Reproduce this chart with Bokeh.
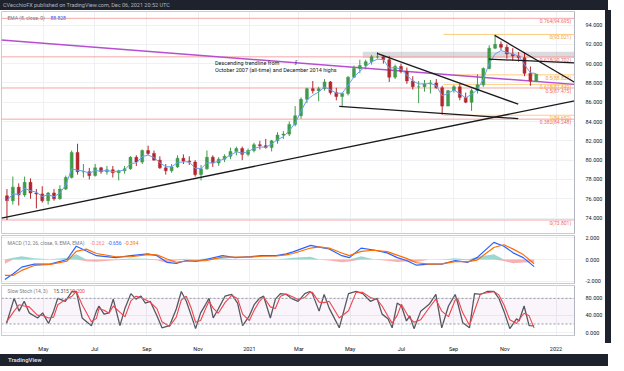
import numpy as np
import pandas as pd
from bokeh.plotting import figure
from bokeh.layouts import column, row
from bokeh.models import (Range1d, FixedTicker, NumeralTickFormatter, CustomJSTickFormatter,
                          Label, Span, BoxAnnotation, Div)
from bokeh.core.properties import value
from bokeh.embed import file_html
from bokeh.resources import INLINE

# ---------------- data ----------------
week_start = "2020-03-16"
opens = [76.3, 75.8, 77.2, 76.4, 77.7, 76.6, 76.5, 75.8, 76.6, 76.0, 77.0, 78.2, 80.8, 78.8, 78.8, 78.4,
         79.2, 78.8, 79.0, 78.7, 78.9, 79.1, 80.3, 79.8, 81.0, 80.7, 80.0, 79.2, 78.9, 79.3, 80.2, 79.9,
         79.8, 78.5, 79.1, 80.3, 79.7, 80.1, 80.4, 80.9, 81.2, 80.6, 81.0, 81.6, 81.5, 81.3, 82.0, 82.6,
         82.7, 83.7, 84.6, 86.3, 87.4, 87.2, 87.4, 88.1, 87.0, 86.6, 86.9, 88.6, 89.5, 89.8, 90.2, 90.7,
         90.7, 90.4, 88.6, 89.7, 89.2, 88.2, 87.6, 87.6, 87.9, 88.0, 87.5, 85.6, 87.2, 87.6, 86.5, 86.0,
         87.2, 87.8, 89.5, 91.6, 92.0, 91.7, 91.0, 90.8, 90.6, 89.0, 88.2]
highs = [77.0, 78.3, 77.6, 78.3, 78.1, 77.0, 77.3, 76.7, 77.0, 77.4, 78.4, 81.0, 81.7, 79.6, 79.2, 79.6,
         79.3, 79.4, 79.4, 79.0, 79.4, 80.4, 80.5, 81.1, 81.5, 81.0, 80.4, 79.6, 79.6, 80.5, 80.6, 80.4,
         80.0, 79.5, 81.0, 80.5, 80.3, 80.6, 81.3, 81.4, 81.4, 81.2, 81.8, 82.0, 82.2, 82.1, 82.9, 83.0,
         84.0, 85.6, 86.5, 87.5, 88.2, 87.6, 88.4, 88.2, 87.5, 87.0, 88.7, 89.8, 90.4, 90.4, 90.9, 91.2,
         90.9, 90.8, 89.9, 90.0, 89.6, 88.7, 88.2, 88.3, 88.3, 88.4, 87.7, 87.3, 87.8, 87.9, 87.0, 87.4,
         88.9, 89.6, 91.9, 93.0, 92.3, 92.0, 91.6, 91.2, 91.2, 89.7, 88.9]
lows = [73.8, 75.4, 75.3, 76.2, 76.0, 75.0, 75.6, 75.4, 75.8, 75.9, 76.9, 78.1, 78.5, 78.2, 78.0, 78.3,
        78.6, 78.5, 78.2, 77.9, 78.6, 79.0, 79.4, 79.6, 80.5, 80.0, 79.1, 78.5, 78.7, 79.2, 79.6, 79.5,
        78.3, 77.9, 79.0, 79.3, 79.4, 79.8, 80.1, 80.5, 80.0, 80.4, 80.8, 81.1, 81.2, 80.9, 81.7, 82.2,
        82.5, 83.5, 84.3, 85.9, 86.9, 86.1, 87.2, 86.8, 86.2, 85.6, 86.7, 88.5, 89.0, 89.4, 89.9, 90.5,
        90.0, 88.1, 88.4, 89.0, 87.9, 87.3, 85.9, 87.1, 86.9, 87.4, 84.7, 85.6, 87.0, 86.2, 85.9, 85.1,
        86.9, 87.6, 89.4, 91.5, 91.4, 90.5, 90.3, 90.2, 88.7, 87.7, 88.1]
closes = [75.8, 77.2, 76.4, 77.7, 76.6, 76.5, 75.8, 76.6, 76.0, 77.0, 78.2, 80.8, 78.8, 78.8, 78.4, 79.2,
          78.8, 79.0, 78.7, 78.9, 79.1, 80.3, 79.8, 81.0, 80.7, 80.0, 79.2, 78.9, 79.3, 80.2, 79.9, 79.8,
          78.5, 79.1, 80.3, 79.7, 80.1, 80.4, 80.9, 81.2, 80.6, 81.0, 81.6, 81.5, 81.3, 82.0, 82.6, 82.7,
          83.7, 84.6, 86.3, 87.4, 87.2, 87.4, 88.1, 87.0, 86.6, 86.9, 88.6, 89.5, 89.8, 90.2, 90.7, 90.7,
          90.4, 88.6, 89.7, 89.2, 88.2, 87.6, 87.6, 87.9, 88.0, 87.5, 85.6, 87.2, 87.6, 86.5, 86.0, 87.2,
          87.8, 89.5, 91.6, 92.0, 91.7, 91.0, 90.8, 90.6, 89.0, 88.2, 88.894]
last_price = 88.894
ema_value = 88.828

price_ticks = [72, 74, 76, 78, 80, 82, 84, 86, 88, 90, 92, 94]
time_ticks = ["2020-05-01", "2020-07-01", "2020-09-01", "2020-11-01", "2021-01-01", "2021-03-01",
              "2021-05-01", "2021-07-01", "2021-09-01", "2021-11-01", "2022-01-01"]
time_labels = ["May", "Jul", "Sep", "Nov", "2021", "Mar", "May", "Jul", "Sep", "Nov", "2022"]

# trend lines (black)
trend_x0 = ["2020-03-12", "2021-06-02", "2021-04-18", "2021-10-20", "2021-10-13"]
trend_y0 = [74.0, 91.07, 85.57, 92.93, 90.47]
trend_x1 = ["2022-01-23", "2021-11-17", "2021-11-17", "2022-01-23", "2022-01-23"]
trend_y1 = [86.15, 85.80, 84.30, 88.07, 90.07]
# long-term descending trendline (purple)
purple_x = ["2020-03-12", "2022-01-23"]
purple_y = [92.44, 87.85]
# grey resistance zone
zone_start, zone_end = "2021-05-16", "2022-01-23"
zone_bottom, zone_top = 90.57, 91.23

# Fibonacci retracement (salmon): 2020 low to long-term high
fib1_low, fib1_range = 73.801, 27.348
fib1_levels = [0, 0.382, 0.5, 0.618, 0.764]
# Fibonacci retracement (orange): Oct 2021 high to Aug 2021 low
fib2_high, fib2_low = 93.021, 84.652
fib2_levels = [0, 0.5, 0.618, 1]
fib2_start = "2021-08-20"

# MACD (12, 26, close, 9)
macd_dates = ["2020-03-16", "2020-03-26", "2020-04-05", "2020-04-20", "2020-05-09", "2020-05-29",
              "2020-06-09", "2020-06-21", "2020-07-03", "2020-07-26", "2020-08-13", "2020-09-02",
              "2020-09-13", "2020-09-25", "2020-10-06", "2020-10-18", "2020-10-29", "2020-11-10",
              "2020-11-30", "2020-12-15", "2021-01-03", "2021-01-15", "2021-02-02", "2021-02-14",
              "2021-02-22", "2021-03-15", "2021-03-25", "2021-04-06", "2021-04-21", "2021-04-30",
              "2021-05-14", "2021-05-29", "2021-06-14", "2021-06-26", "2021-07-07", "2021-07-19",
              "2021-08-03", "2021-08-18", "2021-09-03", "2021-09-18", "2021-09-29", "2021-10-19",
              "2021-10-31", "2021-11-11", "2021-11-23", "2021-12-06"]
macd_line = [-1.83, -1.30, -0.70, -0.43, -0.43, 0.0, 1.22, 0.78, 0.35, 0.17, 0.35, 0.52, 0.35, -0.26,
             -0.35, -0.09, -0.17, 0.0, 0.35, 0.17, 0.26, 0.35, 0.35, 0.52, 0.70, 1.30, 1.13, 0.96, 0.35,
             0.17, 1.04, 0.87, 0.61, 0.17, -0.09, -0.52, -0.43, -0.43, -0.09, -0.26, 0.17, 1.57, 1.22,
             0.61, 0.17, -0.656]
macd_signal = [-1.45, -1.45, -1.0, -0.55, -0.45, -0.15, 0.75, 0.95, 0.55, 0.25, 0.25, 0.45, 0.42, 0.05,
               -0.25, -0.15, -0.12, -0.1, 0.22, 0.22, 0.22, 0.3, 0.32, 0.42, 0.55, 1.05, 1.15, 1.05, 0.6,
               0.35, 0.75, 0.85, 0.72, 0.4, 0.1, -0.3, -0.42, -0.4, -0.2, -0.2, -0.05, 1.1, 1.35, 0.95,
               0.45, -0.394]
macd_ticks = [-2, 0, 2]

# Slow Stochastic (14, 3)
stoch_dates = ["2020-03-18", "2020-03-27", "2020-04-02", "2020-04-08", "2020-04-14", "2020-04-24",
               "2020-04-30", "2020-05-07", "2020-05-13", "2020-05-18", "2020-05-27", "2020-06-04",
               "2020-06-09", "2020-06-16", "2020-06-27", "2020-07-03", "2020-07-06", "2020-07-12",
               "2020-07-18", "2020-07-23", "2020-07-31", "2020-08-06", "2020-08-13", "2020-08-19",
               "2020-08-25", "2020-08-30", "2020-09-05", "2020-09-13", "2020-09-19", "2020-09-28",
               "2020-10-06", "2020-10-12", "2020-10-18", "2020-10-24", "2020-10-29", "2020-11-04",
               "2020-11-10", "2020-11-14", "2020-11-19", "2020-11-25", "2020-12-03", "2020-12-11",
               "2020-12-18", "2020-12-24", "2021-01-01", "2021-01-07", "2021-01-13", "2021-01-18",
               "2021-01-26", "2021-02-01", "2021-02-07", "2021-02-14", "2021-02-20", "2021-02-28",
               "2021-03-08", "2021-03-14", "2021-03-17", "2021-03-25", "2021-03-31", "2021-04-06",
               "2021-04-18", "2021-04-29", "2021-05-08", "2021-05-16", "2021-05-25", "2021-06-02",
               "2021-06-08", "2021-06-15", "2021-06-20", "2021-06-26", "2021-07-01", "2021-07-07",
               "2021-07-11", "2021-07-16", "2021-07-24", "2021-08-03", "2021-08-11", "2021-08-18",
               "2021-08-26", "2021-09-03", "2021-09-06", "2021-09-12", "2021-09-20", "2021-09-26",
               "2021-10-03", "2021-10-11", "2021-10-19", "2021-10-25", "2021-10-31", "2021-11-07",
               "2021-11-15", "2021-11-18", "2021-11-24", "2021-11-30", "2021-12-06"]
stoch_k = [21, 80, 50, 73, 46, 34, 46, 21, 50, 80, 73, 96, 96, 34, 16, 50, 62, 43, 46, 78, 16, 57, 91, 78,
           85, 69, 73, 39, 11, 16, 55, 96, 73, 39, 9, 46, 66, 80, 34, 55, 85, 89, 69, 16, 39, 66, 80, 85,
           34, 78, 91, 89, 80, 73, 91, 96, 91, 50, 89, 57, 11, 91, 96, 91, 73, 80, 43, 32, 11, 69, 62, 27,
           39, 9, 50, 66, 89, 11, 62, 89, 69, 23, 11, 91, 89, 96, 96, 80, 50, 9, 32, 27, 62, 16, 15.315]
stoch_d = [25, 50, 65, 62, 60, 40, 40, 34, 36, 65, 77, 85, 96, 65, 25, 33, 56, 52, 45, 62, 47, 37, 74, 85,
           82, 77, 71, 56, 25, 14, 36, 76, 85, 56, 24, 28, 56, 73, 57, 45, 70, 87, 79, 43, 28, 53, 73, 83,
           60, 56, 85, 90, 85, 77, 82, 94, 94, 71, 70, 73, 34, 51, 94, 94, 82, 77, 62, 38, 22, 40, 66, 45,
           33, 24, 30, 58, 78, 50, 37, 76, 79, 46, 17, 51, 90, 93, 96, 88, 65, 30, 21, 30, 45, 39, 10.2]
stoch_ticks = [0, 40, 80]

# ---------------- helpers ----------------
def ms(d):
    return pd.Timestamp(d).value / 1e6

FONT = value("Roboto")
FS = "5.5px"
HFS = "5px"
X0, X1 = ms("2020-03-12"), ms("2022-01-23")
FW = 573
grid_ticks = [ms(d) for d in time_ticks]


def base_fig(h, yr, bottom_axis=False):
    f = figure(x_axis_type="datetime", x_range=Range1d(X0, X1), y_range=Range1d(*yr),
               frame_width=FW, frame_height=h, output_backend="svg", toolbar_location=None,
               y_axis_location="right", x_axis_location="below" if bottom_axis else None,
               min_border_left=1, min_border_right=28, min_border_top=1,
               min_border_bottom=0 if bottom_axis else 1)
    f.outline_line_color = "#c8cbd3"
    f.background_fill_color = "white"
    f.border_fill_color = "white"
    f.xgrid.ticker = FixedTicker(ticks=grid_ticks)
    f.xgrid.grid_line_color = "#eef0f4"
    f.ygrid.grid_line_color = "#eef0f4"
    ax = f.yaxis[0]
    ax.major_tick_line_color = None
    ax.minor_tick_line_color = None
    ax.axis_line_color = "#b2b5be"
    ax.major_label_text_font_size = FS
    ax.major_label_text_font = "Roboto"
    ax.major_label_text_color = "#131722"
    ax.major_label_standoff = 5
    ax.formatter = NumeralTickFormatter(format="0.000")
    return f


def header_labels(fig, yv, parts):
    for off, t, col in parts:
        fig.add_layout(Label(x=X0, y=yv, x_offset=off, text=t, text_font="Roboto", text_font_size=HFS,
                             text_color=col, text_baseline="middle"))


# ---------------- price pane ----------------
p1 = base_fig(222, (72.4, 95.4))
p1.yaxis.ticker = FixedTicker(ticks=price_ticks)

# grey zone
p1.quad(left=[ms(zone_start)], right=[ms(zone_end)], bottom=[zone_bottom], top=[zone_top],
        fill_color="#9598a1", fill_alpha=0.35, line_color=None)

# salmon fib
fib1_prices = [fib1_low + l * fib1_range for l in fib1_levels]
p1.segment(x0=[X0] * len(fib1_prices), x1=[X1] * len(fib1_prices), y0=fib1_prices, y1=fib1_prices,
           line_color="#f5a5a5", line_width=1)
# orange fib
fib2_prices = [fib2_high - l * (fib2_high - fib2_low) for l in fib2_levels]
p1.segment(x0=[ms(fib2_start)] * len(fib2_prices), x1=[X1] * len(fib2_prices), y0=fib2_prices,
           y1=fib2_prices, line_color="#ffcc80", line_width=1)

lab_x = ms("2022-01-19")
p1.text(x=[lab_x] * len(fib1_prices), y=fib1_prices,
        text=[f"{l:g}({v:.3f})" for l, v in zip(fib1_levels, fib1_prices)],
        text_align="right", text_baseline="top", text_font=FONT, text_font_size=HFS, text_color="#ef6a6a")
p1.text(x=[lab_x] * len(fib2_prices), y=fib2_prices,
        text=[f"{l:g}({v:.3f})" for l, v in zip(fib2_levels, fib2_prices)],
        text_align="right", text_baseline="top", text_font=FONT, text_font_size=HFS, text_color="#f2a33a")

# purple trendline
p1.line([ms(d) for d in purple_x], purple_y, line_color="#b64fcf", line_width=1.5)

# candles
cdates = pd.date_range(week_start, periods=len(closes), freq="7D") + pd.Timedelta(hours=60)
cx = [ms(d) for d in cdates]
up = [c >= o for o, c in zip(opens, closes)]
ccol = ["#3f9b4a" if u else "#b3282d" for u in up]
p1.segment(x0=cx, x1=cx, y0=lows, y1=highs, line_color=ccol, line_width=1)
p1.vbar(x=cx, width=3.5 * 86400000, top=[max(o, c) for o, c in zip(opens, closes)],
        bottom=[min(o, c) for o, c in zip(opens, closes)], fill_color=ccol, line_color=ccol, line_width=0.5)

# EMA(8)
ema = []
for c in closes:
    ema.append(c if not ema else 0.5 * c + 0.5 * ema[-1])
p1.line(cx, ema, line_color="#6a9ff5", line_width=1)

# black trendlines
p1.segment(x0=[ms(d) for d in trend_x0], x1=[ms(d) for d in trend_x1], y0=trend_y0, y1=trend_y1,
           line_color="#1a1a1a", line_width=1.3)

# annotation text
p1.text(x=[ms("2020-11-21")] * 2, y=[90.1, 89.3],
        text=["Descending trendline from", "October 2007 (all-time) and December 2014 highs"],
        text_align="left", text_baseline="middle", text_font=FONT, text_font_size=FS, text_color="#131722")
p1.text(x=[ms("2021-02-24")], y=[90.2], text=["ʃ"], text_align="left", text_baseline="middle",
        text_font=FONT, text_font_size="7px", text_color="#131722")

# header texts
header_labels(p1, 94.7, [(6, "EMA (8, close, 0)", "#787b86"), (49, f"{ema_value:.3f}", "#2962ff")])
# axis-side labels
p1.add_layout(Label(x=X1, y=last_price, x_offset=3, text=f"{last_price:.3f}", text_font="Roboto",
                    text_font_size=FS, text_color="white", text_baseline="middle",
                    background_fill_color="#3f9b4a", padding=2))
p1.add_layout(Label(x=X1, y=94.95, x_offset=8, text="JPY", text_font="Roboto",
                    text_font_size="5px", text_color="#787b86", text_baseline="middle",
                    border_line_color="#c8cbd3", background_fill_color="white", padding=1))

# ---------------- MACD pane ----------------
p2 = base_fig(48, (-2.2, 2.2))
p2.yaxis.ticker = FixedTicker(ticks=macd_ticks)
mx = [ms(d) for d in macd_dates]
hist = np.array(macd_line) - np.array(macd_signal)
p2.varea(x=mx, y1=0, y2=np.maximum(hist, 0), fill_color="#26a69a", fill_alpha=0.45)
p2.varea(x=mx, y1=0, y2=np.minimum(hist, 0), fill_color="#ef5350", fill_alpha=0.45)
p2.line(mx, macd_line, line_color="#2962ff", line_width=1.2)
p2.line(mx, macd_signal, line_color="#ff6d00", line_width=1.2)
header_labels(p2, 1.5, [(6, "MACD (12, 26, close, 9, EMA, EMA)", "#787b86"),
                        (89, f"{hist[-1]:.3f}", "#f77c80"),
                        (106, f"{macd_line[-1]:.3f}", "#2962ff"),
                        (123, f"{macd_signal[-1]:.3f}", "#ff6d00")])

# ---------------- Stochastic pane ----------------
p3 = base_fig(50, (-7, 110), bottom_axis=True)
p3.yaxis.ticker = FixedTicker(ticks=stoch_ticks)
p3.add_layout(BoxAnnotation(bottom=20, top=80, fill_color="#9c27b0", fill_alpha=0.05, line_color=None,
                            level="underlay"))
for lv in (20, 80):
    p3.add_layout(Span(location=lv, dimension="width", line_color="#9598a1", line_dash="2 2",
                       line_width=1))
sx = [ms(d) for d in stoch_dates]
p3.line(sx, stoch_k, line_color="#555862", line_width=1.3)
p3.line(sx, stoch_d, line_color="#f0454c", line_width=1.1)
header_labels(p3, 97, [(6, "Slow Stoch (14, 3)", "#787b86"),
                       (52, f"{stoch_k[-1]:.3f}", "#555862"),
                       (68, f"{stoch_d[-1]:.3f}", "#f0454c")])
xa = p3.xaxis[0]
xa.ticker = FixedTicker(ticks=grid_ticks)
xa.formatter = CustomJSTickFormatter(args=dict(tick_pos=grid_ticks, tick_txt=time_labels),
                                     code="const i = tick_pos.indexOf(tick); return i >= 0 ? tick_txt[i] : '';")
xa.major_tick_line_color = None
xa.minor_tick_line_color = None
xa.axis_line_color = "#c8cbd3"
xa.major_label_text_font_size = FS
xa.major_label_text_font = "Roboto"
xa.major_label_text_color = "#131722"
xa.major_label_standoff = 4

# ---------------- frame ----------------
header = Div(text="CVecchioFX published on TradingView.com, Dec 06, 2021 20:52 UTC", width=608, height=10,
             margin=0, styles={"background-color": "#1e222d", "color": "#b2b5be", "font-size": "5.5px",
                               "font-family": "Roboto, sans-serif", "line-height": "10px",
                               "white-space": "nowrap", "overflow": "hidden", "text-indent": "3px"})
footer = Div(text="<b>TradingView</b>", width=608, height=12, margin=0,
             styles={"background-color": "#1e222d", "color": "#d1d4dc", "font-size": "6px",
                     "font-family": "Roboto, sans-serif", "line-height": "12px", "white-space": "nowrap",
                     "overflow": "hidden", "text-indent": "8px"})
strip = Div(text="", width=6, height=333, margin=0, styles={"background-color": "#1e222d"})

layout = column(header, row(column(p1, p2, p3, spacing=0), strip, spacing=0), footer, spacing=0)

open("out.html", "w").write(file_html(layout, INLINE))
